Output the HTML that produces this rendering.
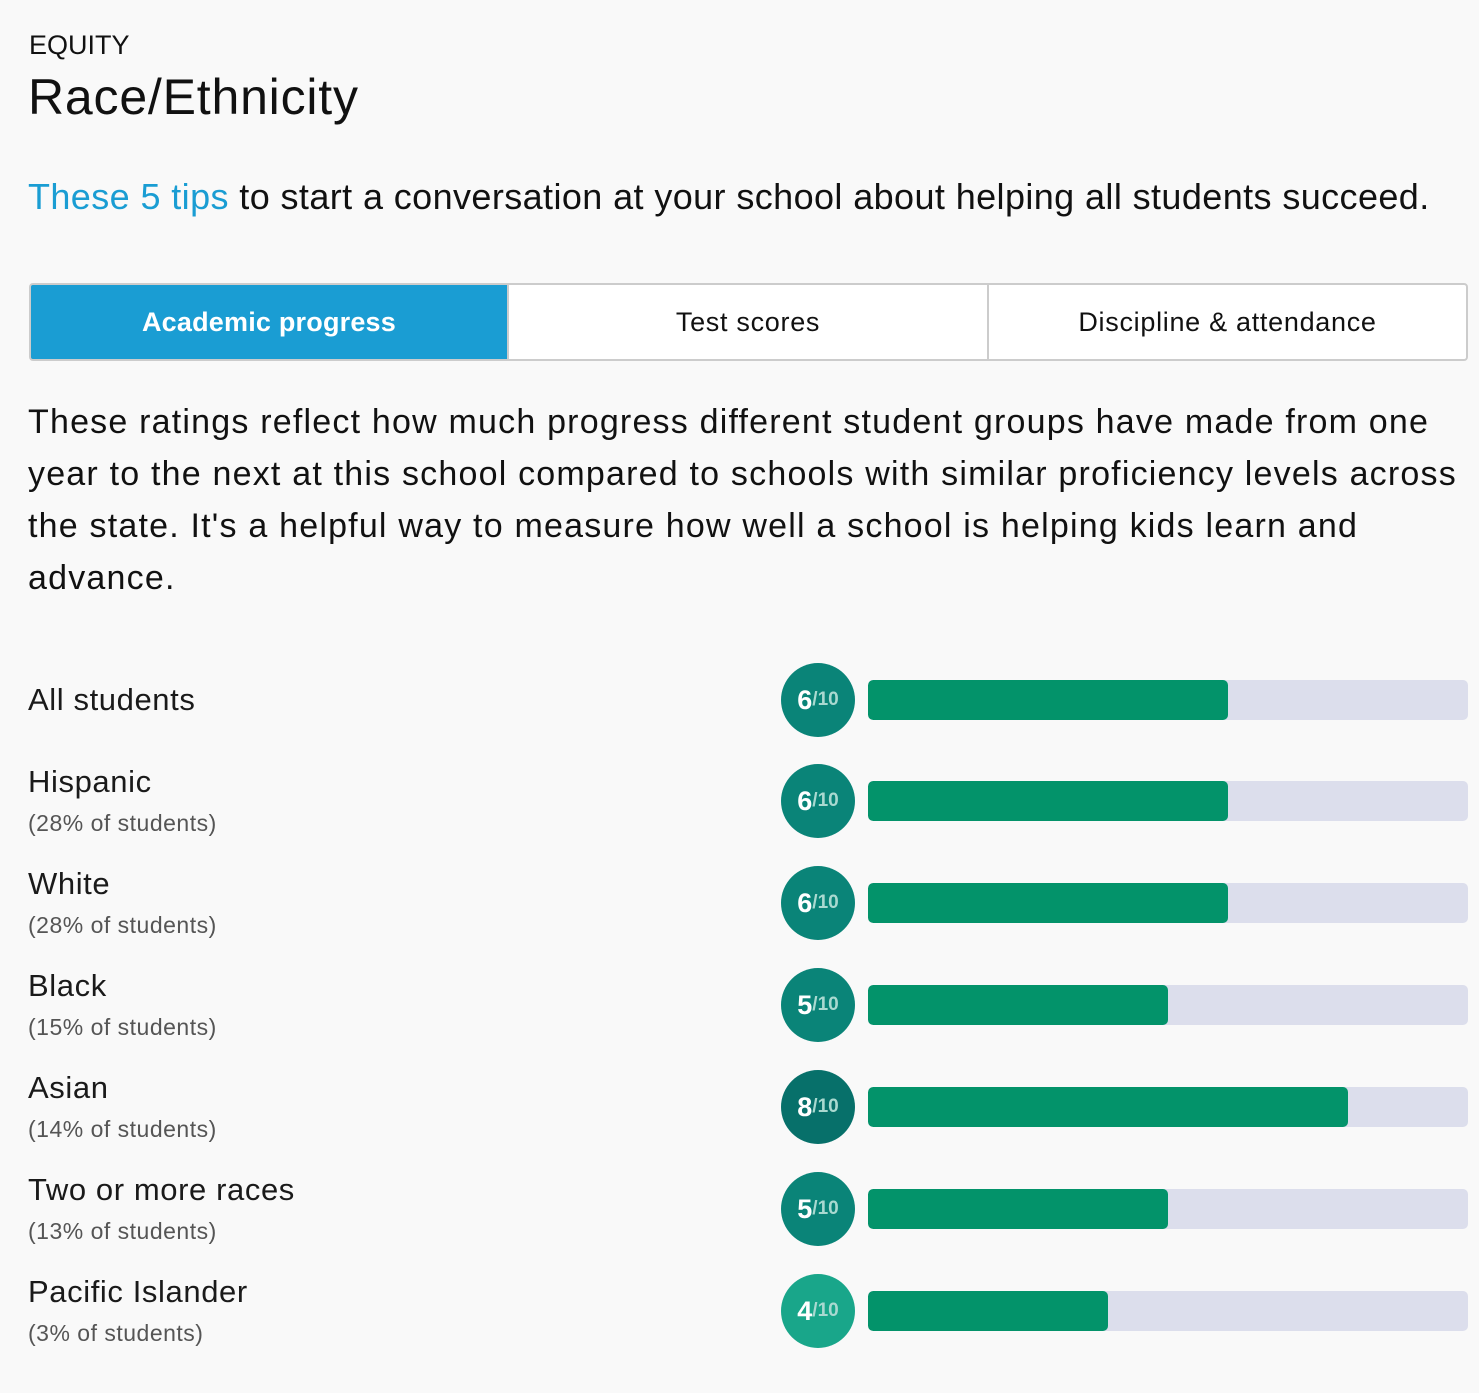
<!DOCTYPE html>
<html><head><meta charset="utf-8"><style>
*{margin:0;padding:0;box-sizing:border-box}
body{width:1479px;height:1393px;background:#f9f9f9;font-family:"Liberation Sans",sans-serif;color:#111;position:relative;overflow:hidden}
.a{position:absolute;white-space:nowrap}
.tab{position:absolute;top:283px;height:78px;display:flex;align-items:center;justify-content:center;font-size:27px;background:#fff;border:2px solid #ccc;letter-spacing:0.7px}
.name{font-size:31px;color:#1a1a1a;letter-spacing:0.6px}
.sub{font-size:23px;color:#555;letter-spacing:0.5px}
.c{position:absolute;left:781px;width:74px;height:74px;border-radius:50%;color:#fff;display:flex;align-items:center;justify-content:center;font-weight:bold;font-size:27px}
.c small{font-size:19px;color:#a9d9d0}
.t{position:absolute;left:868px;width:600px;height:40px;background:#dcdeec;border-radius:5px;overflow:hidden}
.t div{height:100%;background:#03936a;border-radius:5px}
</style></head><body>
<div class="a" style="left:29px;top:30px;font-size:27px">EQUITY</div>
<div class="a" style="left:28px;top:68px;font-size:50px;letter-spacing:0.8px">Race/Ethnicity</div>
<div class="a" style="left:28px;top:176px;font-size:36px;letter-spacing:0.4px"><span style="color:#1a9dd3">These 5 tips</span> to start a conversation at your school about helping all students succeed.</div>
<div class="tab" style="left:29px;width:480px;background:#1a9dd3;color:#fff;font-weight:bold;border-radius:4px 0 0 4px;border-color:#ccc;letter-spacing:0.2px">Academic progress</div>
<div class="tab" style="left:507px;width:482px">Test scores</div>
<div class="tab" style="left:987px;width:481px;border-radius:0 4px 4px 0">Discipline &amp; attendance</div>
<div class="a" style="left:28px;top:396px;font-size:34px;line-height:52px;letter-spacing:1.2px">These ratings reflect how much progress different student groups have made from one<br>year to the next at this school compared to schools with similar proficiency levels across<br>the state. It's a helpful way to measure how well a school is helping kids learn and<br>advance.</div>

<div class="a name" style="left:28px;top:682px">All students</div>
<div class="c" style="top:663px;background:#0a8478">6<small>/10</small></div>
<div class="t" style="top:680px"><div style="width:360px"></div></div>

<div class="a name" style="left:28px;top:764px">Hispanic</div>
<div class="a sub" style="left:28px;top:810px">(28% of students)</div>
<div class="c" style="top:764px;background:#0a8478">6<small>/10</small></div>
<div class="t" style="top:781px"><div style="width:360px"></div></div>

<div class="a name" style="left:28px;top:866px">White</div>
<div class="a sub" style="left:28px;top:912px">(28% of students)</div>
<div class="c" style="top:866px;background:#0a8478">6<small>/10</small></div>
<div class="t" style="top:883px"><div style="width:360px"></div></div>

<div class="a name" style="left:28px;top:968px">Black</div>
<div class="a sub" style="left:28px;top:1014px">(15% of students)</div>
<div class="c" style="top:968px;background:#0a8478">5<small>/10</small></div>
<div class="t" style="top:985px"><div style="width:300px"></div></div>

<div class="a name" style="left:28px;top:1070px">Asian</div>
<div class="a sub" style="left:28px;top:1116px">(14% of students)</div>
<div class="c" style="top:1070px;background:#07706a">8<small>/10</small></div>
<div class="t" style="top:1087px"><div style="width:480px"></div></div>

<div class="a name" style="left:28px;top:1172px">Two or more races</div>
<div class="a sub" style="left:28px;top:1218px">(13% of students)</div>
<div class="c" style="top:1172px;background:#0a8478">5<small>/10</small></div>
<div class="t" style="top:1189px"><div style="width:300px"></div></div>

<div class="a name" style="left:28px;top:1274px">Pacific Islander</div>
<div class="a sub" style="left:28px;top:1320px">(3% of students)</div>
<div class="c" style="top:1274px;background:#19a68a">4<small>/10</small></div>
<div class="t" style="top:1291px"><div style="width:240px"></div></div>
</body></html>
